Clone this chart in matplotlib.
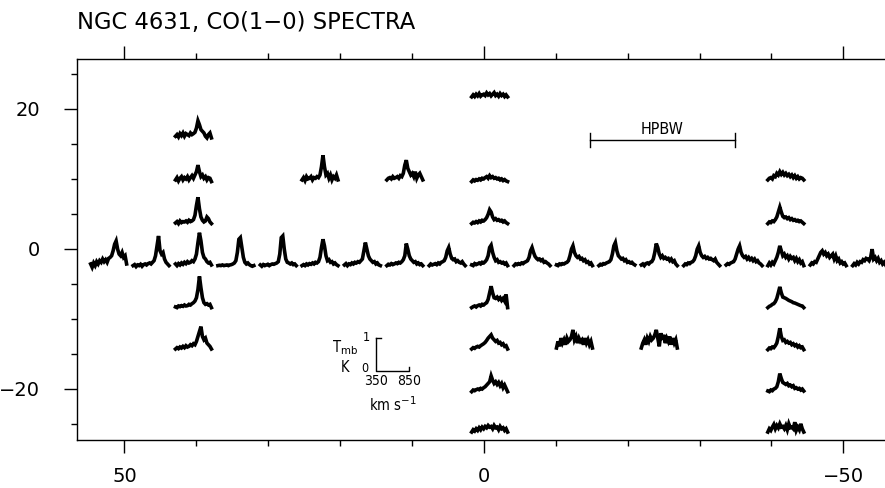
import numpy as np
import matplotlib
matplotlib.use('Agg')
import matplotlib.pyplot as plt
from matplotlib.ticker import MultipleLocator, FixedLocator
from matplotlib import font_manager

# ---- map grid (arcsec offsets) ----
col_x = [52.2, 46.3, 40.4, 34.5, 28.6, 22.8, 16.9, 11.0, 5.1, -0.8,
         -6.7, -12.6, -18.5, -24.4, -30.3, -36.2, -42.0, -47.9, -53.8]

# channels of every spectrum (km/s)
vel = [330 + 22.5 * k for k in range(25)]

# ---- spectra along the major axis (row offset 0), Tmb in K ----
main_row = [
    [0.05, -0.05, 0.08, 0.0, 0.12, 0.05, 0.15, 0.1, 0.2, 0.12, 0.18, 0.1, 0.22, 0.25, 0.3, 0.45, 0.65, 0.75, 0.5, 0.35, 0.3, 0.4, 0.25, 0.3, 0.05],
    [0.0, 0.03, -0.03, 0.02, 0.0, 0.04, -0.02, 0.03, 0.05, 0.02, 0.06, 0.08, 0.05, 0.1, 0.15, 0.3, 0.6, 0.9, 0.45, 0.35, 0.4, 0.2, 0.1, 0.05, 0.0],
    [0.05, 0.0, 0.06, 0.02, 0.08, 0.04, 0.1, 0.06, 0.12, 0.08, 0.1, 0.15, 0.12, 0.2, 0.35, 0.7, 1.0, 0.75, 0.4, 0.25, 0.2, 0.12, 0.08, 0.1, 0.02],
    [0.0, 0.01, 0.0, 0.02, 0.0, 0.01, 0.02, 0.0, 0.02, 0.03, 0.05, 0.08, 0.15, 0.4, 0.8, 0.85, 0.55, 0.25, 0.1, 0.05, 0.08, 0.03, 0.0, -0.02, 0.0],
    [0.02, -0.02, 0.03, 0.0, 0.02, 0.04, 0.0, 0.03, 0.05, 0.04, 0.06, 0.08, 0.12, 0.35, 0.85, 0.9, 0.5, 0.2, 0.1, 0.08, 0.05, 0.08, 0.03, 0.05, 0.0],
    [0.0, 0.03, 0.0, 0.05, 0.02, 0.06, 0.04, 0.08, 0.05, 0.1, 0.08, 0.12, 0.25, 0.55, 0.8, 0.6, 0.3, 0.15, 0.18, 0.1, 0.12, 0.05, 0.08, 0.03, 0.0],
    [0.02, 0.06, 0.0, 0.05, 0.03, 0.08, 0.05, 0.1, 0.08, 0.12, 0.1, 0.15, 0.2, 0.45, 0.7, 0.5, 0.3, 0.2, 0.15, 0.1, 0.12, 0.05, 0.08, 0.02, 0.0],
    [0.0, 0.04, 0.02, 0.06, 0.03, 0.05, 0.08, 0.06, 0.1, 0.08, 0.12, 0.18, 0.3, 0.67, 0.5, 0.3, 0.2, 0.15, 0.1, 0.12, 0.05, 0.08, 0.03, 0.05, 0.0],
    [0.0, 0.05, 0.02, 0.04, 0.06, 0.03, 0.08, 0.05, 0.1, 0.12, 0.15, 0.25, 0.45, 0.55, 0.35, 0.22, 0.18, 0.2, 0.12, 0.15, 0.1, 0.08, 0.12, 0.05, 0.0],
    [0.02, 0.0, 0.06, 0.03, 0.05, 0.08, 0.05, 0.1, 0.08, 0.12, 0.18, 0.3, 0.55, 0.62, 0.4, 0.25, 0.15, 0.18, 0.1, 0.12, 0.08, 0.1, 0.05, 0.08, 0.0],
    [0.0, 0.05, 0.03, 0.06, 0.04, 0.08, 0.06, 0.1, 0.12, 0.15, 0.25, 0.45, 0.55, 0.4, 0.28, 0.22, 0.18, 0.2, 0.15, 0.18, 0.1, 0.12, 0.08, 0.05, 0.0],
    [0.02, 0.0, 0.05, 0.03, 0.06, 0.05, 0.08, 0.1, 0.15, 0.3, 0.5, 0.6, 0.4, 0.3, 0.25, 0.28, 0.2, 0.22, 0.15, 0.18, 0.1, 0.12, 0.05, 0.08, 0.0],
    [0.0, 0.04, 0.02, 0.06, 0.05, 0.08, 0.1, 0.12, 0.18, 0.35, 0.6, 0.7, 0.45, 0.3, 0.25, 0.2, 0.22, 0.15, 0.18, 0.1, 0.12, 0.08, 0.1, 0.05, 0.02],
    [0.02, 0.05, 0.0, 0.06, 0.08, 0.05, 0.1, 0.12, 0.2, 0.4, 0.67, 0.55, 0.35, 0.25, 0.3, 0.22, 0.25, 0.2, 0.22, 0.15, 0.2, 0.12, 0.15, 0.05, 0.0],
    [0.0, 0.05, 0.03, 0.08, 0.06, 0.1, 0.12, 0.18, 0.3, 0.5, 0.6, 0.4, 0.3, 0.25, 0.28, 0.22, 0.25, 0.2, 0.22, 0.18, 0.15, 0.2, 0.1, 0.05, 0.0],
    [0.02, 0.06, 0.04, 0.08, 0.1, 0.12, 0.2, 0.35, 0.5, 0.6, 0.4, 0.3, 0.25, 0.28, 0.2, 0.25, 0.18, 0.22, 0.15, 0.2, 0.12, 0.15, 0.08, 0.05, 0.0],
    [0.0, 0.08, 0.02, 0.1, 0.05, 0.15, 0.25, 0.4, 0.6, 0.45, 0.3, 0.35, 0.25, 0.3, 0.2, 0.28, 0.22, 0.25, 0.15, 0.22, 0.12, 0.18, 0.08, 0.12, 0.0],
    [0.02, 0.08, 0.05, 0.12, 0.1, 0.2, 0.3, 0.4, 0.45, 0.35, 0.4, 0.3, 0.35, 0.25, 0.3, 0.35, 0.2, 0.3, 0.15, 0.2, 0.08, 0.12, 0.05, 0.08, 0.0],
    [0.0, 0.06, 0.02, 0.1, 0.05, 0.12, 0.1, 0.18, 0.15, 0.22, 0.2, 0.15, 0.25, 0.5, 0.2, 0.25, 0.15, 0.22, 0.1, 0.15, 0.05, 0.1, 0.02, 0.06, 0.0],
]

# ---- spectra off the major axis: column index, row offset, Tmb ----
extra_col = [2, 2, 2, 2, 2,
             5, 7,
             9, 9, 9, 9, 9, 9, 9,
             11, 13,
             16, 16, 16, 16, 16, 16]
extra_row = [18, 12, 6, -6, -12,
             12, 12,
             24, 12, 6, -6, -12, -18, -24,
             -12, -12,
             12, 6, -6, -12, -18, -24]
extra_spec = [
    [0.1, 0.15, 0.08, 0.18, 0.12, 0.2, 0.1, 0.18, 0.15, 0.12, 0.2, 0.15, 0.18, 0.22, 0.35, 0.57, 0.45, 0.3, 0.25, 0.2, 0.1, 0.05, 0.15, 0.2, 0.05],
    [0.05, 0.12, 0.02, 0.1, 0.15, 0.05, 0.12, 0.08, 0.15, 0.05, 0.12, 0.18, 0.1, 0.2, 0.3, 0.5, 0.3, 0.15, 0.2, 0.1, 0.15, 0.05, 0.12, 0.1, 0.0],
    [0.02, 0.06, 0.0, 0.08, 0.03, 0.06, 0.05, 0.08, 0.04, 0.1, 0.06, 0.08, 0.12, 0.25, 0.55, 0.8, 0.45, 0.2, 0.1, 0.05, 0.08, 0.2, 0.15, 0.05, 0.0],
    [0.02, 0.0, 0.05, 0.03, 0.06, 0.04, 0.08, 0.05, 0.06, 0.1, 0.08, 0.12, 0.15, 0.2, 0.3, 0.55, 0.95, 0.6, 0.3, 0.15, 0.1, 0.12, 0.08, 0.1, 0.0],
    [0.02, 0.06, 0.03, 0.08, 0.05, 0.1, 0.06, 0.12, 0.08, 0.1, 0.15, 0.12, 0.18, 0.15, 0.25, 0.4, 0.55, 0.7, 0.4, 0.3, 0.35, 0.2, 0.15, 0.1, 0.02],
    [0.05, 0.12, 0.03, 0.15, 0.08, 0.1, 0.15, 0.05, 0.12, 0.1, 0.15, 0.12, 0.2, 0.45, 0.8, 0.45, 0.2, 0.25, 0.1, 0.2, 0.05, 0.15, 0.1, 0.2, 0.05],
    [0.05, 0.1, 0.12, 0.08, 0.15, 0.1, 0.12, 0.15, 0.1, 0.18, 0.15, 0.25, 0.5, 0.65, 0.4, 0.3, 0.2, 0.25, 0.15, 0.3, 0.1, 0.2, 0.25, 0.15, 0.05],
    [0.02, 0.08, 0.03, 0.1, 0.05, 0.12, 0.04, 0.08, 0.1, 0.06, 0.14, 0.08, 0.12, 0.05, 0.1, 0.15, 0.06, 0.1, 0.04, 0.12, 0.06, 0.1, 0.03, 0.08, 0.02],
    [0.0, 0.05, 0.02, 0.06, 0.04, 0.08, 0.05, 0.1, 0.08, 0.12, 0.15, 0.1, 0.18, 0.12, 0.15, 0.1, 0.12, 0.08, 0.1, 0.05, 0.08, 0.03, 0.06, 0.02, 0.0],
    [0.0, 0.04, 0.02, 0.06, 0.03, 0.08, 0.05, 0.1, 0.08, 0.12, 0.18, 0.28, 0.42, 0.35, 0.2, 0.12, 0.15, 0.1, 0.12, 0.08, 0.1, 0.05, 0.08, 0.03, 0.0],
    [0.0, 0.03, 0.05, 0.02, 0.06, 0.08, 0.05, 0.1, 0.08, 0.12, 0.15, 0.25, 0.45, 0.65, 0.45, 0.3, 0.28, 0.32, 0.25, 0.3, 0.22, 0.28, 0.2, 0.4, 0.0],
    [0.02, 0.06, 0.04, 0.08, 0.1, 0.08, 0.12, 0.15, 0.18, 0.22, 0.28, 0.35, 0.4, 0.45, 0.35, 0.3, 0.25, 0.28, 0.2, 0.22, 0.15, 0.18, 0.1, 0.12, 0.02],
    [0.0, 0.05, 0.03, 0.06, 0.08, 0.06, 0.1, 0.08, 0.12, 0.15, 0.2, 0.25, 0.3, 0.48, 0.35, 0.25, 0.3, 0.22, 0.28, 0.18, 0.25, 0.12, 0.2, 0.1, 0.0],
    [0.05, 0.12, 0.08, 0.15, 0.1, 0.18, 0.12, 0.2, 0.15, 0.22, 0.18, 0.25, 0.2, 0.22, 0.15, 0.25, 0.18, 0.2, 0.12, 0.22, 0.15, 0.18, 0.1, 0.15, 0.05],
    [0.05, 0.25, 0.1, 0.35, 0.2, 0.3, 0.15, 0.35, 0.25, 0.3, 0.4, 0.6, 0.3, 0.4, 0.2, 0.35, 0.25, 0.3, 0.15, 0.35, 0.2, 0.3, 0.15, 0.25, 0.05],
    [0.05, 0.2, 0.3, 0.15, 0.35, 0.25, 0.4, 0.3, 0.35, 0.45, 0.6, 0.35, 0.1, 0.5, 0.3, 0.45, 0.2, 0.35, 0.25, 0.4, 0.15, 0.35, 0.2, 0.3, 0.05],
    [0.05, 0.1, 0.12, 0.08, 0.18, 0.15, 0.25, 0.2, 0.3, 0.22, 0.28, 0.2, 0.25, 0.18, 0.22, 0.15, 0.2, 0.12, 0.18, 0.1, 0.15, 0.08, 0.12, 0.1, 0.05],
    [0.0, 0.05, 0.03, 0.08, 0.06, 0.12, 0.2, 0.35, 0.5, 0.35, 0.22, 0.18, 0.2, 0.15, 0.18, 0.12, 0.15, 0.1, 0.12, 0.08, 0.1, 0.06, 0.08, 0.04, 0.0],
    [0.0, 0.04, 0.06, 0.1, 0.12, 0.18, 0.28, 0.45, 0.63, 0.45, 0.32, 0.3, 0.28, 0.25, 0.22, 0.2, 0.18, 0.15, 0.14, 0.12, 0.1, 0.08, 0.06, 0.05, 0.0],
    [0.0, 0.05, 0.03, 0.08, 0.06, 0.12, 0.2, 0.4, 0.65, 0.4, 0.28, 0.3, 0.22, 0.25, 0.2, 0.22, 0.15, 0.18, 0.12, 0.15, 0.08, 0.12, 0.06, 0.08, 0.0],
    [0.02, 0.0, 0.05, 0.03, 0.08, 0.1, 0.15, 0.3, 0.55, 0.4, 0.28, 0.25, 0.22, 0.25, 0.18, 0.2, 0.15, 0.18, 0.1, 0.12, 0.08, 0.1, 0.05, 0.08, 0.02],
    [0.05, 0.15, 0.1, 0.2, 0.28, 0.15, 0.25, 0.18, 0.3, 0.2, 0.22, 0.15, 0.25, 0.12, 0.3, 0.18, 0.2, 0.15, 0.35, 0.1, 0.2, 0.12, 0.3, 0.15, 0.05],
]

# beam size and scale bar
hpbw_start, hpbw_size, hpbw_y = -14.7, 20.2, 15.6
bar_x, bar_y = 12.7, -15.0
bar_vel = [350, 850]
bar_tmb = [0, 1]

# how a spectrum box sits on the map
V0, V_SPAN = 330.0, 540.0
BOX_W = 5.0       # arcsec across the box
Y_BASE = 2.4      # zero level below the grid point
K_SCALE = 4.7     # arcsec per kelvin
SPEC_LW = 2.6


def to_map(xc, yc, v, t):
    v = np.asarray(v, float)
    t = np.asarray(t, float)
    x = xc + BOX_W / 2 - (v - V0) / V_SPAN * BOX_W
    y = yc - Y_BASE + t * K_SCALE
    return x, y


names = {f.name for f in font_manager.fontManager.ttflist}
narrow = 'Liberation Sans Narrow' if 'Liberation Sans Narrow' in names else 'DejaVu Sans'
small = dict(family=narrow, stretch='condensed')

fig = plt.figure(figsize=(8.85, 4.88), dpi=100)
ax = fig.add_axes([77 / 885, 48 / 488, 808 / 885, 381 / 488])

for i, spec in enumerate(main_row):
    x, y = to_map(col_x[i], 0, vel, spec)
    ax.plot(x, y, color='black', lw=SPEC_LW, solid_joinstyle='miter')

for c, r, spec in zip(extra_col, extra_row, extra_spec):
    x, y = to_map(col_x[c], r, vel, spec)
    ax.plot(x, y, color='black', lw=SPEC_LW, solid_joinstyle='miter')

# HPBW bar
ax.plot([hpbw_start, hpbw_start - hpbw_size], [hpbw_y, hpbw_y], color='black', lw=1)
for xe in (hpbw_start, hpbw_start - hpbw_size):
    ax.plot([xe, xe], [hpbw_y - 1.0, hpbw_y + 1.0], color='black', lw=1)
ax.text(hpbw_start - hpbw_size / 2, hpbw_y + 0.4, 'HPBW', ha='center', va='bottom',
        fontsize=11.5, **small)

# intensity / velocity scale bar
bx, by = to_map(bar_x, bar_y, [bar_vel[0], bar_vel[0], bar_vel[1], bar_vel[1]],
                [bar_tmb[1], bar_tmb[0], bar_tmb[0], 0.12])
ax.plot(bx, by, color='black', lw=1)
tx, ty = to_map(bar_x, bar_y, [bar_vel[0], bar_vel[0] + 70], [bar_tmb[1], bar_tmb[1]])
ax.plot(tx, ty, color='black', lw=1)
lx, ly = to_map(bar_x, bar_y, bar_vel, [0, 0])
for xv, lab in zip(lx, bar_vel):
    ax.text(xv, ly[0] - 0.5, str(lab), ha='center', va='top', fontsize=10, **small)
ax.text(lx[0] + 1.3, ly[0] + K_SCALE, '1', ha='center', va='center', fontsize=9, **small)
ax.text(lx[0] + 1.5, ly[0] + 0.3, '0', ha='center', va='center', fontsize=9, **small)
ax.text(lx[0] + 4.3, ly[0] + 3.3, r'T$_{\rm mb}$', ha='center', va='center', fontsize=10.5, **small)
ax.text(lx[0] + 4.3, ly[0] + 0.5, 'K', ha='center', va='center', fontsize=10.5, **small)
ax.text((lx[0] + lx[1]) / 2, ly[0] - 3.5, r'km s$^{-1}$', ha='center', va='top', fontsize=10.5, **small)

ax.set_xlim(56.6, -55.8)
ax.set_ylim(-27.3, 27.1)
ax.spines['right'].set_visible(False)
for s in ('left', 'top', 'bottom'):
    ax.spines[s].set_linewidth(1.0)

ax.xaxis.set_major_locator(FixedLocator([50, 0, -50]))
ax.xaxis.set_minor_locator(MultipleLocator(10))
ax.yaxis.set_major_locator(FixedLocator([20, 0, -20]))
ax.yaxis.set_minor_locator(MultipleLocator(5))
ax.set_xticklabels(['50', '0', '\u221250'])
ax.set_yticklabels(['20', '0', '\u221220'])
ax.tick_params(axis='both', which='major', direction='out', length=9.4, width=1.0,
               labelsize=14, top=True, right=False)
ax.tick_params(axis='both', which='minor', direction='out', length=4.5, width=1.0,
               top=True, right=False)
ax.tick_params(axis='x', which='major', pad=10)
ax.tick_params(axis='y', which='major', pad=17)

fig.text(77 / 885, 1 - 22 / 488, 'NGC 4631, CO(1\u22120) SPECTRA', ha='left', va='center',
         fontsize=16.3)

fig.savefig('out.png', dpi=100)
